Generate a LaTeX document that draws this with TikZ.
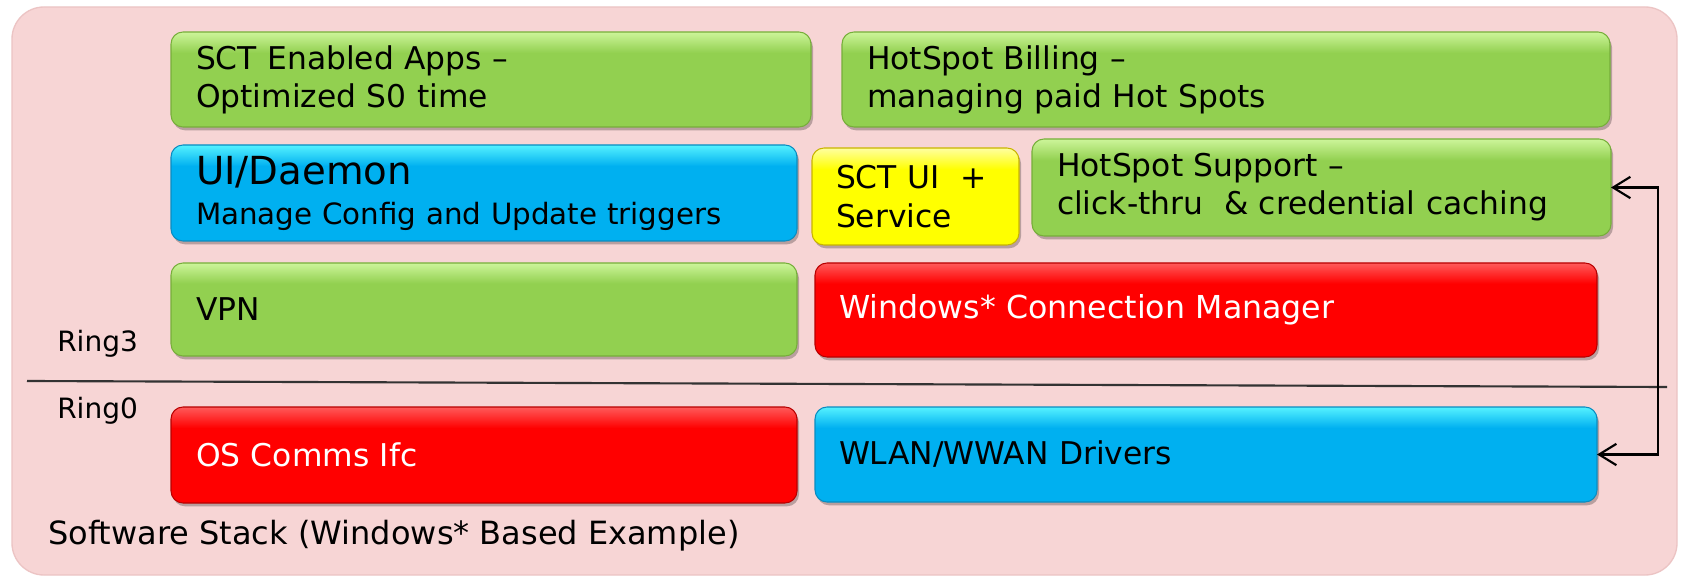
\documentclass[tikz,border=0pt]{standalone}
\usepackage{fontspec}
\setmainfont{DejaVu Sans}
\usetikzlibrary{arrows.meta,shadows}
\definecolor{bgpink}{RGB}{247,213,213}
\definecolor{bgedge}{RGB}{236,196,196}
\definecolor{gbody}{HTML}{92D050}
\definecolor{glight}{HTML}{CDF59A}
\definecolor{gedge}{HTML}{76AE3A}
\definecolor{bbody}{HTML}{00B0F0}
\definecolor{blight}{HTML}{55F2FF}
\definecolor{bedge}{HTML}{0A8CC0}
\definecolor{rbody}{HTML}{FF0000}
\definecolor{rlight}{HTML}{FF5A5A}
\definecolor{redge}{HTML}{B80000}
\definecolor{ybody}{HTML}{FFFF00}
\definecolor{ylight}{HTML}{FFFFA0}
\definecolor{yedge}{HTML}{C8B400}
\definecolor{divline}{HTML}{333333}
\pgfdeclareverticalshading{gshade}{100bp}{color(0bp)=(gbody); color(25bp)=(gbody); color(64bp)=(gbody); color(75bp)=(glight); color(100bp)=(glight)}
\pgfdeclareverticalshading{bshade}{100bp}{color(0bp)=(bbody); color(25bp)=(bbody); color(64bp)=(bbody); color(75bp)=(blight); color(100bp)=(blight)}
\pgfdeclareverticalshading{rshade}{100bp}{color(0bp)=(rbody); color(25bp)=(rbody); color(64bp)=(rbody); color(75bp)=(rlight); color(100bp)=(rlight)}
\pgfdeclareverticalshading{yshade}{100bp}{color(0bp)=(ybody); color(25bp)=(ybody); color(64bp)=(ybody); color(75bp)=(ylight); color(100bp)=(ylight)}
\tikzset{
  box/.style={rounded corners=9pt, line width=0.8pt, inner xsep=18.75pt, inner ysep=0pt, outer sep=0pt,
    align=left, anchor=north west, font=\fontsize{23.5}{28.5}\selectfont,
    drop shadow={shadow xshift=1.5pt, shadow yshift=-2.5pt, opacity=0.25, fill=black}},
  gbox/.style={box, shading=gshade, draw=gedge, text=black},
  bbox/.style={box, shading=bshade, draw=bedge, text=black},
  rbox/.style={box, shading=rshade, draw=redge, text=white},
  ybox/.style={box, shading=yshade, draw=yedge, text=black},
  lbl/.style={anchor=west, inner sep=0pt, text=black},
  conn/.style={line width=1.6pt, black, {Straight Barb[length=13pt,width=16pt,line width=1.6pt]}-{Straight Barb[length=13pt,width=16pt,line width=1.6pt]}}
}
\begin{document}
\begin{tikzpicture}[x=0.75pt,y=-0.75pt]
\useasboundingbox (0,0) rectangle (1681,577);
\fill[white] (0,0) rectangle (1681,577);
\node[draw=bgedge, line width=1pt, fill=bgpink, rounded corners=24pt, anchor=north west, inner sep=0pt, outer sep=0pt,
  minimum width=1248.75pt, minimum height=426pt] (stack) at (12,7) {};

\node[gbox, text width=442.5pt, minimum height=71.25pt] (apps) at (171,32) {SCT Enabled Apps --\\Optimized S0 time};
\node[gbox, text width=538.5pt, minimum height=71.25pt] (billing) at (842,32) {HotSpot Billing --\\managing paid Hot Spots};
\node[bbox, text width=432pt, minimum height=72pt, font=\fontsize{22}{30}\selectfont] (ui) at (171,145) {{\fontsize{29}{30}\selectfont UI/Daemon}\\Manage Config and Update triggers};
\node[ybox, inner xsep=18pt, text width=119.25pt, minimum height=72.75pt, font=\fontsize{23.5}{29}\selectfont] (sctui) at (812,148) {SCT UI\ \ +\\Service};
\node[gbox, text width=396.75pt, minimum height=72.75pt] (hss) at (1032,139) {HotSpot Support --\\click-thru\ \ \& credential caching};
\node[gbox, text width=432pt, minimum height=69.75pt] (vpn) at (171,263) {VPN};
\node[rbox, inner xsep=18pt, text width=550.5pt, minimum height=70.5pt, font=\fontsize{23.7}{28.5}\selectfont] (wcm) at (815,263) {Windows* Connection Manager};
\node[rbox, text width=432pt, minimum height=72pt] (os) at (171,407) {OS Comms Ifc};
\node[bbox, inner xsep=18pt, text width=550.5pt, minimum height=71.25pt] (wlan) at (815,407) {WLAN/WWAN Drivers};

\node[lbl, font=\fontsize{21}{25}\selectfont] (ring3) at (57,344) {Ring3};
\node[lbl, font=\fontsize{21}{25}\selectfont] (ring0) at (57,411) {Ring0};
\node[lbl, font=\fontsize{24}{28}\selectfont] (title) at (48,536) {Software Stack (Windows* Based Example)};

\coordinate (dl) at (27,381);
\coordinate (dr) at (1667,387);
\draw[line width=1.6pt, divline] (dl) -- (dr);

\coordinate (ax) at (1658,0);
\draw[conn] (hss.east) -- (hss.east -| ax) |- (wlan.east);
\end{tikzpicture}
\end{document}
